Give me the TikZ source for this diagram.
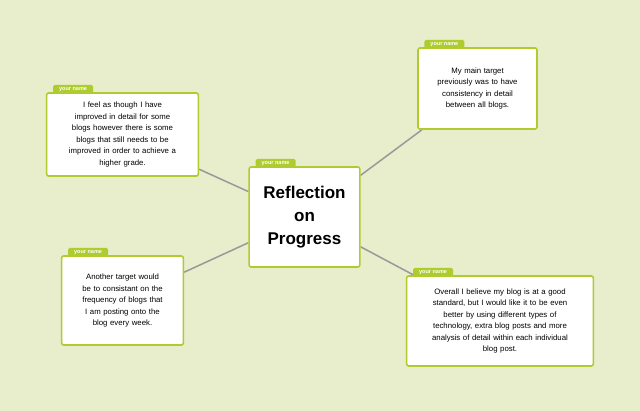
\documentclass[tikz,border=0pt]{standalone}
\usepackage{fontspec}
\setmainfont{Liberation Sans}
\usetikzlibrary{backgrounds}
\definecolor{bgcol}{HTML}{E8EDCC}
\definecolor{limecol}{HTML}{AECC2E}
\definecolor{linkcol}{HTML}{999999}
\begin{document}
\begin{tikzpicture}[x=1pt,y=-1pt]

\tikzset{notebox/.style={draw=limecol, line width=1.6pt, fill=white, rectangle, rounded corners=2pt, align=center, font=\fontsize{7.8}{11.5}\selectfont}}
\tikzset{nametag/.style={fill=limecol, text=white, rounded corners=1.5pt, inner sep=1pt, minimum width=40pt, minimum height=8pt, text height=4pt, text depth=0.5pt, font=\fontsize{5.5}{6}\selectfont\bfseries, anchor=south west}}
\tikzset{link/.style={draw=linkcol, line width=1.5pt}}

% central topic
\node[notebox, minimum width=109pt, minimum height=100pt, text width=104pt, font=\fontsize{17}{23}\selectfont\bfseries] at (304.5,217) (centre) {Reflection\\on\\Progress};

% notes
\node[notebox, minimum width=119pt, minimum height=81pt, text width=112pt] at (477.5,88.5) (target) {My main target\\previously was to have\\consistency in detail\\between all blogs.};
\node[notebox, minimum width=151pt, minimum height=83pt, text width=145pt] at (122.5,134.5) (improved) {I feel as though I have\\improved in detail for some\\blogs however there is some\\blogs that still needs to be\\improved in order to achieve a\\higher grade.};
\node[notebox, minimum width=121pt, minimum height=89pt, text width=115pt] at (122.5,300.5) (frequency) {Another target would\\be to consistant on the\\frequency of blogs that\\I am posting onto the\\blog every week.};
\node[notebox, minimum width=184pt, minimum height=90pt, text width=180pt] at (500,321) (overall) {Overall I believe my blog is at a good\\standard, but I would like it to be even\\better by using different types of\\technology, extra blog posts and more\\analysis of detail within each individual\\blog post.};

% name tags
\foreach \n in {centre, target, improved, frequency, overall}
  \node[nametag] at ([xshift=7pt, yshift=-1pt]\n.north west) (\n-tag) {your name};

% links and background
\begin{pgfonlayer}{background}
\fill[bgcol] (0,0) rectangle (640,411);
\draw[link] (centre) -- (target);
\draw[link] (centre) -- (improved);
\draw[link] (centre) -- (frequency);
\draw[link] (centre) -- (overall);
\end{pgfonlayer}
\end{tikzpicture}
\end{document}
